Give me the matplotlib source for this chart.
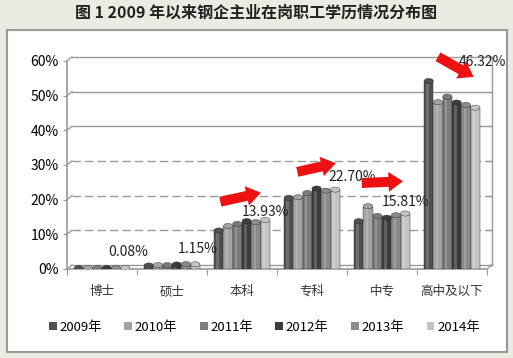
import numpy as np
import matplotlib
matplotlib.use('Agg')
import matplotlib.pyplot as plt
from matplotlib.patches import Rectangle, Patch, Ellipse

plt.rcParams['font.family'] = ['Noto Sans CJK SC', 'DejaVu Sans']

# 数据
categories = ['博士', '硕士', '本科', '专科', '中专', '高中及以下']
years = ['2009年', '2010年', '2011年', '2012年', '2013年', '2014年']
v2009 = [0.06, 0.80, 10.9, 20.3, 13.6, 54.0]
v2010 = [0.07, 0.90, 12.2, 20.5, 17.9, 47.9]
v2011 = [0.07, 0.90, 12.8, 21.7, 15.1, 49.5]
v2012 = [0.08, 1.10, 13.6, 23.0, 14.6, 47.8]
v2013 = [0.08, 1.20, 13.3, 22.4, 15.3, 47.1]
v2014 = [0.08, 1.15, 13.93, 22.70, 15.81, 46.32]
labels_2014 = ['0.08%', '1.15%', '13.93%', '22.70%', '15.81%', '46.32%']
colors = ['#505050', '#a3a3a3', '#7c7c7c', '#3c3c3c', '#8a8a8a', '#c4c4c4']
series = [v2009, v2010, v2011, v2012, v2013, v2014]

fig = plt.figure(figsize=(5.13, 3.58), dpi=100)
fig.patch.set_facecolor('#ecebe3')
# 白色外框
fig.patches.append(Rectangle((7/513, 6/358), 500/513, 322/358, transform=fig.transFigure,
                             facecolor='white', edgecolor='#9a9a9a', lw=1.5, zorder=-10))
fig.text(0.5, 1-13/358, '图 1 2009 年以来钢企主业在岗职工学历情况分布图', ha='center', va='center',
         fontsize=11.5, fontweight='bold', color='#222222')

ax = fig.add_axes([67/513, 89/358, 420/513, 215/358])
ax.set_facecolor('none')
ax.set_xlim(-0.5, 5.5)
ax.set_ylim(0, 62)
for s in ax.spines.values():
    s.set_visible(False)

dx, dy = 0.07, 1.15
gc = '#9a9a9a'
for g in range(0, 70, 10):
    ls = (0, (6, 3)) if g in (10, 20, 30) else '-'
    ax.plot([-0.5, -0.5 + dx], [g, g + dy], color=gc, lw=1, clip_on=False)
    ax.plot([-0.5 + dx, 5.5 + dx], [g + dy, g + dy], color=gc, lw=1, ls=ls, clip_on=False)
    ax.plot([5.5 + dx - 0.04, 5.5 + dx], [g + dy, g + dy], color=gc, lw=1, clip_on=False)
# 墙边
ax.plot([-0.5, -0.5], [0, 60], color=gc, lw=1.2, clip_on=False)
ax.plot([5.5 + dx, 5.5 + dx], [dy, 60 + dy], color=gc, lw=1, clip_on=False)
ax.plot([-0.5, 5.5], [0, 0], color=gc, lw=1.2, clip_on=False)
ax.plot([5.5, 5.5 + dx], [0, dy], color=gc, lw=1, clip_on=False)

x = np.arange(len(categories))
w = 0.133
for i, vals in enumerate(series):
    pos = x + (i - 2.5) * w
    ax.bar(pos, vals, width=w, color=colors[i], edgecolor='#2a2a2a', lw=0.3, zorder=3)
    # 高光
    ax.bar(pos - w * 0.12, vals, width=w * 0.25, color='white', alpha=0.18, lw=0, zorder=4)
    # 顶盖
    for p, v in zip(pos, vals):
        ax.add_patch(Ellipse((p, v + 0.2), w, 1.5, facecolor=colors[i], edgecolor='#2a2a2a',
                             lw=0.3, zorder=5))

ax.set_yticks(range(0, 70, 10))
ax.set_yticklabels(['%d%%' % t for t in range(0, 70, 10)], fontsize=10)
ax.set_xticks(np.arange(-0.5, 6, 1))
ax.set_xticklabels([])
ax.tick_params(axis='y', length=3, color=gc, pad=3)
ax.tick_params(axis='x', length=4, color=gc)
for i, c in enumerate(categories):
    ax.text(i, -6.5, c, ha='center', va='center', fontsize=9, color='#333333')

# 数值标签
lab_pos = [(0.37, 4.9), (1.37, 5.8), (2.33, 16.4), (3.57, 26.5), (4.34, 19.3), (5.44, 59.7)]
for (lx, ly), t in zip(lab_pos, labels_2014):
    ax.text(lx, ly, t, ha='center', va='center', fontsize=10, color='#222222', zorder=6)

# 红色箭头
arrows = [((1.69, 19.4), (2.27, 22.0)), ((2.79, 28.0), (3.34, 30.5)),
          ((3.71, 24.8), (4.30, 25.3)), ((4.80, 61.2), (5.31, 55.4))]
for (x0, y0), (x1, y1) in arrows:
    ax.annotate('', xy=(x1, y1), xytext=(x0, y0),
                arrowprops=dict(arrowstyle='simple,head_length=0.8,head_width=1.1,tail_width=0.55',
                                color='#ee1111', lw=0, mutation_scale=13, shrinkA=0, shrinkB=0),
                annotation_clip=False, zorder=7)

handles = [Patch(facecolor=c, edgecolor='none') for c in colors]
fig.legend(handles, years, loc='center', bbox_to_anchor=(0.515, 31/358), ncol=6, frameon=False,
           fontsize=9.5, handlelength=0.6, handleheight=0.6, handletextpad=0.2, columnspacing=1.7)

fig.savefig('out.png', dpi=100)
